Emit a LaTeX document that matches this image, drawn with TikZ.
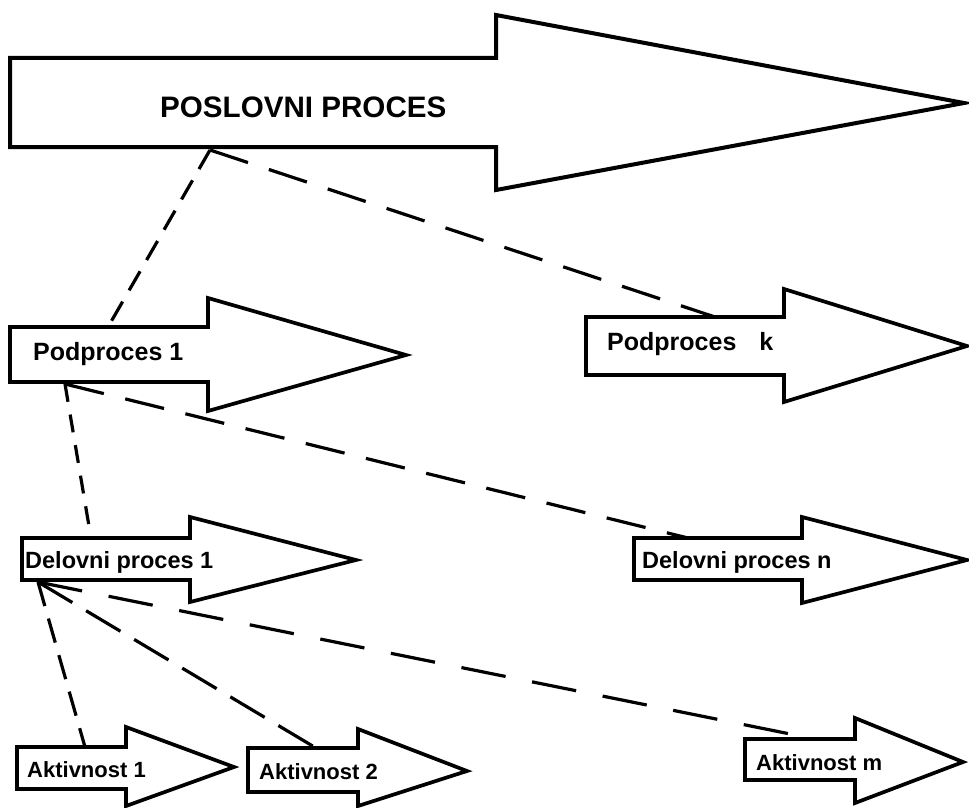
\documentclass[tikz,border=0pt]{standalone}
\usepackage{fontspec}
\setmainfont{Liberation Sans}
% block arrow: #2 left x, #3/#4 body top/bottom, #5 shaft end x,
% #6/#7 head top/bottom, #8/#9 tip x/y
\newcommand{\procarrow}[9][]{%
  \draw[arrowbox,#1] (#2,#3) -- (#5,#3) -- (#5,#6) -- (#8,#9) -- (#5,#7) -- (#5,#4) -- (#2,#4) -- cycle;}
\begin{document}
\begin{tikzpicture}[x=1pt,y=-1pt,
  arrowbox/.style={draw=black,line width=3.7pt,fill=white,line join=miter,miter limit=20},
  lbl/.style={anchor=base west,inner sep=0pt,text=black},
  biglbl/.style={lbl,font=\fontsize{29.6}{29.6}\selectfont\bfseries},
  midlbl/.style={lbl,font=\fontsize{25}{25}\selectfont\bfseries},
  smalllbl/.style={lbl,font=\fontsize{23.5}{23.5}\selectfont\bfseries},
  tinylbl/.style={lbl,font=\fontsize{22}{22}\selectfont\bfseries},
  link/.style={draw=black,line width=3.2pt},
  longlink/.style={link,dash pattern=on 40pt off 22pt},
  steeplink/.style={link,dash pattern=on 22pt off 13pt},
  diaglink/.style={link,dash pattern=on 40pt off 16pt}]
\useasboundingbox (0,0) rectangle (969,808);

% process level
\procarrow[line width=4pt]{10}{58}{147}{496}{15}{190}{964}{103}
\node[biglbl] (proc) at (160,117) {POSLOVNI PROCES};

% sub-processes
\procarrow{10}{327}{382}{208}{298}{411}{406}{355}
\node[midlbl] (sub1) at (33,360) {Podproces 1};
\procarrow{586}{317}{375}{784}{289}{402}{967}{346}
\node[midlbl] (subk) at (607,350) {Podproces\hspace{23pt}k};

% work processes
\procarrow{22}{538}{580}{190}{517}{602}{356}{560}
\node[smalllbl] (work1) at (25,568) {Delovni proces 1};
\procarrow{634}{538}{580}{802}{517}{603}{967}{560}
\node[smalllbl] (workn) at (642,568) {Delovni proces n};

% activities
\procarrow{17}{747}{789}{126}{727}{806}{234}{767}
\node[tinylbl] (act1) at (27,777) {Aktivnost 1};
\procarrow{248}{748}{792}{358}{729}{806}{467}{771}
\node[tinylbl] (act2) at (259,779) {Aktivnost 2};
\procarrow{745}{739}{780}{855}{718}{803}{963}{762}
\node[tinylbl] (actm) at (756,770) {Aktivnost m};

% connection points
\coordinate (procbot) at (210,150);
\coordinate (sub1top) at (108,327);
\coordinate (subktop) at (715,317);
\coordinate (sub1bot) at (65,384);
\coordinate (work1top) at (91,538);
\coordinate (workntop) at (688,538);
\coordinate (work1bot) at (38,582);
\coordinate (act1top) at (85,747);
\coordinate (act2top) at (316,748);
\coordinate (actmtop) at (815,739);

% decomposition links
\draw[steeplink] (procbot) -- (sub1top);
\draw[longlink] (procbot) -- (subktop);
\draw[steeplink,dash pattern=on 18pt off 13pt] (sub1bot) -- (work1top);
\draw[longlink] (sub1bot) -- (workntop);
\draw[steeplink,dash pattern=on 25pt off 13pt] (work1bot) -- (act1top);
\draw[diaglink] (work1bot) -- (act2top);
\draw[longlink,dash pattern=on 45pt off 27pt] (work1bot) -- (actmtop);
\end{tikzpicture}
\end{document}
